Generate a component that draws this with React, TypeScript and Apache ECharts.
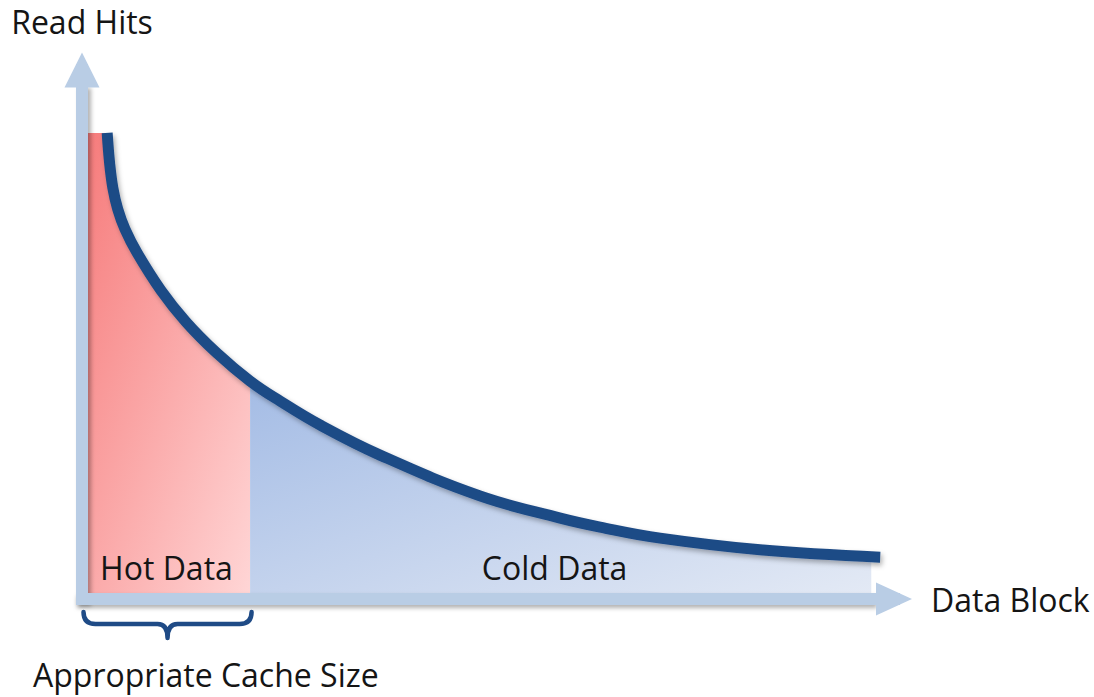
import React, { useEffect, useRef } from "react";
import * as echarts from "echarts";

// Curve: read hits per data block (abstract 0-100 units)
const blockPos = [3.1, 3.4, 3.8, 4.4, 5.3, 6.8, 9.7, 12.8, 16.6, 20.7, 24.4, 29.3, 36.7, 49.0, 58.9, 63.8, 71.2, 83.5, 98.3];
const readHits = [88.1, 82.4, 77.7, 73.7, 69.9, 65.4, 58.4, 52.4, 46.5, 41.2, 37.4, 32.9, 27.2, 19.5, 15.3, 13.6, 11.5, 9.3, 7.9];
const cacheSizeEdge = 20.7; // end of the hot data region
const coldFillEnd = 97.2;
const axisMin = 0;
const axisMax = 100;

const xAxisName = "Data Block";
const yAxisName = "Read Hits";
const hotLabel = "Hot Data";
const coldLabel = "Cold Data";
const braceLabel = "Appropriate Cache Size";
const hotLabelPos = [10.4, 6.0];
const coldLabelPos = [58.2, 5.9];

const FONT = "'Open Sans', 'Noto Sans', sans-serif";
const FONT_SIZE = 32;
const TEXT_COLOR = "#151515";
const AXIS_COLOR = "#b9cde5";
const CURVE_COLOR = "#1f4b86";

export default function App() {
  const ref = useRef<HTMLDivElement>(null);

  useEffect(() => {
    if (!ref.current) return;
    const chart = echarts.init(ref.current, undefined, { renderer: "svg" });

    const curve = blockPos.map((x, i) => [x, readHits[i]]);
    const hotFill = [[axisMin, readHits[0]], ...curve.filter((p) => p[0] <= cacheSizeEdge)];
    const coldPts = curve.filter((p) => p[0] >= cacheSizeEdge);
    const coldFill = coldPts.map((p, i) => (i === coldPts.length - 1 ? [coldFillEnd, p[1]] : p));

    const axisLineStyle = {
      color: AXIS_COLOR,
      width: 12,
      cap: "square",
    };

    const nameStyle = {
      fontFamily: FONT,
      fontSize: FONT_SIZE,
      color: TEXT_COLOR,
      verticalAlign: "middle",
    };

    chart.setOption({
      animation: false,
      grid: { left: 82, right: 200, top: 70, bottom: 98, containLabel: false, outerBoundsMode: "none" },
      xAxis: {
        type: "value",
        min: axisMin,
        max: axisMax,
        z: 5,
        name: xAxisName,
        nameLocation: "end",
        nameGap: 37,
        nameTextStyle: { ...nameStyle, align: "left" },
        axisLine: { show: true, onZero: false, symbol: ["none", "triangle"], symbolSize: [33, 36], lineStyle: axisLineStyle },
        axisTick: { show: false },
        axisLabel: { show: false },
        splitLine: { show: false },
      },
      yAxis: {
        type: "value",
        min: axisMin,
        max: axisMax,
        z: 5,
        name: yAxisName,
        nameLocation: "end",
        nameGap: 48.5,
        nameTextStyle: { ...nameStyle, align: "center" },
        axisLine: { show: true, onZero: false, symbol: ["none", "triangle"], symbolSize: [35, 35], lineStyle: axisLineStyle },
        axisTick: { show: false },
        axisLabel: { show: false },
        splitLine: { show: false },
      },
      series: [
        {
          type: "line",
          data: hotFill,
          symbol: "none",
          silent: true,
          z: 2,
          lineStyle: { width: 0, opacity: 0 },
          areaStyle: {
            opacity: 1,
            color: {
              type: "linear", x: 0, y: 0, x2: 1, y2: 1,
              colorStops: [
                { offset: 0, color: "#f67a7a" },
                { offset: 1, color: "#ffd6d6" },
              ],
            },
          },
        },
        {
          type: "line",
          data: coldFill,
          symbol: "none",
          silent: true,
          z: 2,
          lineStyle: { width: 0, opacity: 0 },
          areaStyle: {
            opacity: 1,
            color: {
              type: "linear", x: 0, y: 0, x2: 1, y2: 1,
              colorStops: [
                { offset: 0, color: "#a4bce5" },
                { offset: 1, color: "#e4eaf5" },
              ],
            },
          },
        },
        {
          type: "line",
          data: curve,
          smooth: 0.4,
          symbol: "none",
          silent: true,
          z: 3,
          lineStyle: {
            color: CURVE_COLOR,
            width: 11,
            cap: "butt",
            shadowColor: "rgba(0,0,0,0.3)",
            shadowBlur: 5,
            shadowOffsetX: 2,
            shadowOffsetY: 3,
          },
        },
      ],
    });

    const px = (v: number[]) => chart.convertToPixel({ gridIndex: 0 }, v) as number[];
    const p0 = px([axisMin, 0]);
    const pTop = px([axisMin, axisMax]);
    const pRight = px([axisMax, 0]);
    const pEdge = px([cacheSizeEdge, 0]);
    const hotP = px(hotLabelPos);
    const coldP = px(coldLabelPos);

    const x0 = p0[0] + 1.5;
    const x1 = pEdge[0] + 1.5;
    const m = (x0 + x1) / 2;
    const yTop = p0[1] + 13;
    const yMid = p0[1] + 25;
    const yTip = p0[1] + 39;
    const d =
      `M${x0},${yTop} Q${x0},${yMid} ${x0 + 12},${yMid} L${m - 10},${yMid} ` +
      `Q${m},${yMid} ${m},${yTip} Q${m},${yMid} ${m + 10},${yMid} ` +
      `L${x1 - 12},${yMid} Q${x1},${yMid} ${x1},${yTop}`;
    echarts.graphic.registerShape("cacheBrace", echarts.graphic.extendPath(d, {}));

    const shadowStyle = {
      fill: AXIS_COLOR,
      shadowColor: "rgba(0,0,0,0.3)",
      shadowBlur: 4,
    };

    chart.setOption({
      graphic: [
        // soft shadows beneath the axis bars
        {
          type: "rect",
          z: 4,
          silent: true,
          shape: { x: p0[0] - 6, y: p0[1] - 6, width: pRight[0] - 18 - (p0[0] - 6), height: 12 },
          style: { ...shadowStyle, shadowOffsetX: 1, shadowOffsetY: 3 },
        },
        {
          type: "rect",
          z: 4,
          silent: true,
          shape: { x: p0[0] - 6, y: pTop[1] + 17, width: 12, height: p0[1] + 6 - (pTop[1] + 17) },
          style: { ...shadowStyle, shadowOffsetX: 3, shadowOffsetY: 1 },
        },
        {
          type: "cacheBrace",
          z: 10,
          silent: true,
          style: { fill: "none", stroke: CURVE_COLOR, lineWidth: 4.5, lineCap: "round", lineJoin: "round" },
        },
        {
          type: "text",
          z: 10,
          x: hotP[0],
          y: hotP[1],
          style: { text: hotLabel, font: `${FONT_SIZE}px ${FONT}`, fill: TEXT_COLOR, align: "center", verticalAlign: "middle" },
        },
        {
          type: "text",
          z: 10,
          x: coldP[0],
          y: coldP[1],
          style: { text: coldLabel, font: `${FONT_SIZE}px ${FONT}`, fill: TEXT_COLOR, align: "center", verticalAlign: "middle" },
        },
        {
          type: "text",
          z: 10,
          x: 33,
          y: p0[1] + 75.5,
          style: { text: braceLabel, font: `${FONT_SIZE}px ${FONT}`, fill: TEXT_COLOR, align: "left", verticalAlign: "middle" },
        },
      ],
    });

    return () => chart.dispose();
  }, []);

  return (
    <div
      ref={ref}
      style={{ position: "fixed", left: 0, top: 0, width: 1094, height: 697, background: "#ffffff" }}
    />
  );
}
